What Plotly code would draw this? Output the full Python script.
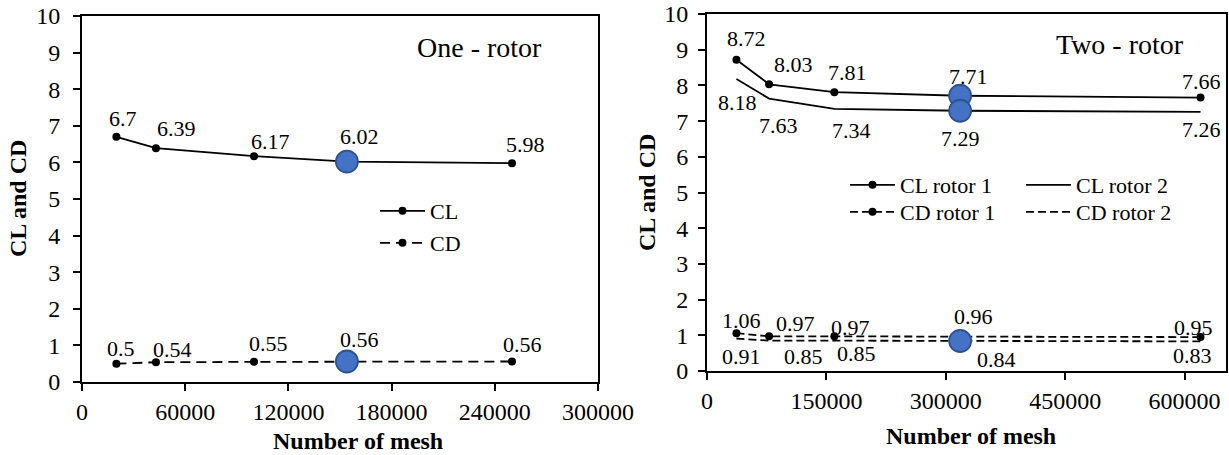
import plotly.graph_objects as go

# ---------------- data ----------------
one_mesh = [20000, 43000, 100000, 154000, 250000]
one_cl = [6.7, 6.39, 6.17, 6.02, 5.98]
one_cd = [0.5, 0.54, 0.55, 0.56, 0.56]

two_mesh = [37000, 78000, 160000, 318000, 620000]
cl_rotor1 = [8.72, 8.03, 7.81, 7.71, 7.66]
cl_rotor2 = [8.18, 7.63, 7.34, 7.29, 7.26]
cd_rotor1 = [1.06, 0.97, 0.97, 0.96, 0.95]
cd_rotor2 = [0.91, 0.85, 0.85, 0.84, 0.83]

selected = 3  # highlighted mesh

one_xticks = [0, 60000, 120000, 180000, 240000, 300000]
two_xticks = [0, 150000, 300000, 450000, 600000]
y_ticks = list(range(0, 11))

# ---------------- styles ----------------
W, H = 1229, 455
FONT = "Liberation Serif"
BLACK = "#000000"
BLUE = "#4472C4"
BLUE_EDGE = "#2F528F"
DASH_ONE = "10px,6px"
DASH_TWO = "8px,4px"

# label offsets (px, dx right, dy down)
one_cl_off = [(7, -18), (21, -20), (16, -15), (13, -25), (13, -19)]
one_cd_off = [(5, -15), (17, -13), (14, -18), (13, -22), (10, -17)]
r1_cl_off = [(10, -21), (24, -20), (13, -20), (8, -19), (1, -16)]
r2_cl_off = [(1, 24), (9, 27), (17, 22), (0, 28), (1, 18)]
r1_cd_off = [(5, -13), (26, -13), (16, -9), (13, -20), (-7, -10)]
r2_cd_off = [(5, 18), (34, 16), (22, 13), (36, 18), (-8, 14)]

fig = go.Figure()

def line_trace(x, y, name, xa, ya, dash, markers, legend):
    return go.Scatter(
        x=x, y=y, name=name, xaxis=xa, yaxis=ya,
        mode="lines+markers" if markers else "lines",
        line=dict(color=BLACK, width=1.8, dash=dash),
        marker=dict(color=BLACK, size=8),
        legend=legend, cliponaxis=False,
    )

# one-rotor
fig.add_trace(line_trace(one_mesh, one_cl, "CL", "x", "y", "solid", True, "legend"))
fig.add_trace(line_trace(one_mesh, one_cd, "CD", "x", "y", DASH_ONE, True, "legend2"))
# two-rotor
fig.add_trace(line_trace(two_mesh, cl_rotor1, "CL rotor 1", "x2", "y2", "solid", True, "legend3"))
fig.add_trace(line_trace(two_mesh, cd_rotor1, "CD rotor 1", "x2", "y2", DASH_TWO, True, "legend4"))
fig.add_trace(line_trace(two_mesh, cl_rotor2, "CL rotor 2", "x2", "y2", "solid", False, "legend5"))
fig.add_trace(line_trace(two_mesh, cd_rotor2, "CD rotor 2", "x2", "y2", DASH_TWO, False, "legend6"))

# highlighted points
def highlight(xs, ys, xa, ya):
    return go.Scatter(
        x=[xs[selected]], y=[ys[selected]], xaxis=xa, yaxis=ya, mode="markers",
        marker=dict(color=BLUE, size=22, line=dict(color=BLUE_EDGE, width=1.8)),
        showlegend=False, cliponaxis=False,
    )

fig.add_trace(highlight(one_mesh, one_cl, "x", "y"))
fig.add_trace(highlight(one_mesh, one_cd, "x", "y"))
fig.add_trace(highlight(two_mesh, cl_rotor1, "x2", "y2"))
fig.add_trace(highlight(two_mesh, cl_rotor2, "x2", "y2"))
fig.add_trace(highlight(two_mesh, cd_rotor2, "x2", "y2"))

annotations = []

def labels(xs, ys, offs, xr, yr):
    for xv, yv, (dx, dy) in zip(xs, ys, offs):
        annotations.append(dict(
            x=xv, y=yv, xref=xr, yref=yr, text=f"{yv:g}", showarrow=False,
            xshift=dx, yshift=-dy, xanchor="center", yanchor="middle",
            font=dict(family=FONT, size=22, color=BLACK),
        ))

labels(one_mesh, one_cl, one_cl_off, "x", "y")
labels(one_mesh, one_cd, one_cd_off, "x", "y")
labels(two_mesh, cl_rotor1, r1_cl_off, "x2", "y2")
labels(two_mesh, cl_rotor2, r2_cl_off, "x2", "y2")
labels(two_mesh, cd_rotor1, r1_cd_off, "x2", "y2")
labels(two_mesh, cd_rotor2, r2_cd_off, "x2", "y2")

def ptext(text, px, py, size, bold=False, angle=0):
    annotations.append(dict(
        x=px / W, y=1 - py / H, xref="paper", yref="paper",
        text=f"<b>{text}</b>" if bold else text, showarrow=False,
        xanchor="center", yanchor="middle", textangle=angle,
        font=dict(family=FONT, size=size, color=BLACK),
    ))

ptext("One - rotor", 479, 48, 28)
ptext("Two - rotor", 1120, 45, 28)
ptext("CL and CD", 18, 199, 24, bold=True, angle=-90)
ptext("CL and CD", 647, 193, 24, bold=True, angle=-90)
ptext("Number of mesh", 358, 441, 24, bold=True)
ptext("Number of mesh", 971, 436, 24, bold=True)

TICKFONT = dict(family=FONT, size=24, color=BLACK)

def xaxis(domain, rng, ticks):
    return dict(
        domain=domain, range=rng, tickvals=ticks, ticktext=[str(t) for t in ticks],
        showline=True, linecolor=BLACK, linewidth=2, mirror=True,
        ticks="outside", ticklen=7, tickwidth=2, tickcolor=BLACK,
        showgrid=False, zeroline=False, fixedrange=True,
        tickfont=TICKFONT, automargin=False,
    )

def yaxis(domain, anchor, standoff):
    return dict(
        domain=domain, range=[0, 10], tickvals=y_ticks, ticktext=[str(t) for t in y_ticks],
        anchor=anchor,
        showline=True, linecolor=BLACK, linewidth=2, mirror=True,
        ticks="outside", ticklen=7, tickwidth=2, tickcolor=BLACK,
        showgrid=False, zeroline=False, fixedrange=True,
        tickfont=TICKFONT, automargin=False, ticklabelstandoff=standoff,
    )

legend_font = dict(family=FONT, size=22, color=BLACK)

def legend_box(px, py):
    # py = vertical centre of the single row
    return dict(x=px / W, y=1 - py / H, xanchor="left", yanchor="middle",
                bgcolor="rgba(0,0,0,0)", font=legend_font, itemwidth=45,
                borderwidth=0)

fig.update_layout(
    width=W, height=H,
    margin=dict(l=0, r=0, t=0, b=0),
    paper_bgcolor="white", plot_bgcolor="white",
    xaxis=dict(xaxis([82 / W, 598 / W], [0, 300000], one_xticks), anchor="y"),
    yaxis=yaxis([(H - 382) / H, (H - 16) / H], "x", 8),
    xaxis2=dict(xaxis([707 / W, 1226 / W], [0, 652000], two_xticks), anchor="y2"),
    yaxis2=yaxis([(H - 371) / H, (H - 14) / H], "x2", 5),
    annotations=annotations,
    legend=legend_box(375, 211),
    legend2=legend_box(375, 243),
    legend3=legend_box(845, 185),
    legend4=legend_box(845, 212),
    legend5=legend_box(1021, 185),
    legend6=legend_box(1021, 212),
    showlegend=True,
)

fig.write_html("out.html")
